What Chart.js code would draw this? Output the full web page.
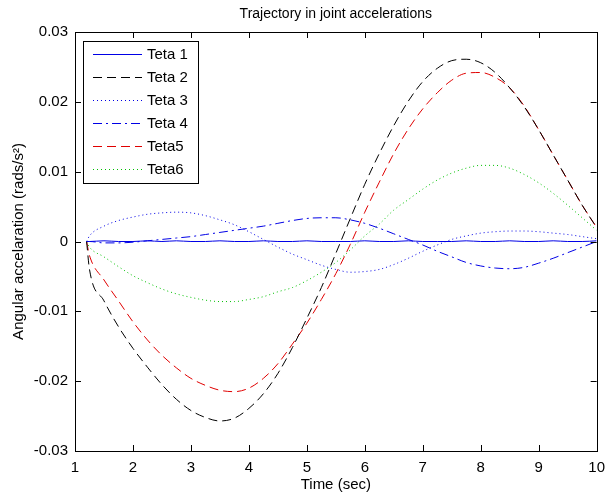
<!DOCTYPE html>
<html>
<head>
<meta charset="utf-8">
<script src="https://cdn.jsdelivr.net/npm/chart.js@4/dist/chart.umd.min.js"></script>
<style>
  html, body { margin: 0; padding: 0; background: #fff; }
  #wrap { width: 613px; height: 495px; }
</style>
</head>
<body>
<div id="wrap"><canvas id="acc"></canvas></div>
<script>
// Joint acceleration trajectories, six joints over 1..10 s.
var times = [1.2, 1.25, 1.5, 1.75, 2, 2.25, 2.5, 2.75, 3, 3.25, 3.5, 3.75, 4, 4.25, 4.5, 4.75,
             5, 5.25, 5.5, 5.75, 6, 6.25, 6.5, 6.75, 7, 7.25, 7.5, 7.75, 8, 8.25, 8.5, 8.75,
             9, 9.25, 9.5, 9.75, 10];

var teta1 = [0, 0, 0.0001, 0, 0, 0.0001, 0, 0.0001, 0, 0, 0.0001, 0, 0, 0.0001, 0, 0,
             0.0001, 0, 0, 0, 0.0001, 0, 0, 0.0001, 0, 0, 0, 0.0001, 0, 0, 0.0001, 0,
             0, 0.0001, 0, 0, 0.0001];
var teta2 = [0, -0.004, -0.0085, -0.0122, -0.0153, -0.018, -0.0205, -0.0226, -0.0242, -0.0252,
             -0.0257, -0.0253, -0.0239, -0.0218, -0.0189, -0.0152, -0.011, -0.0066, -0.0017, 0.0033,
             0.0082, 0.0126, 0.0166, 0.0201, 0.0229, 0.0248, 0.0259, 0.0261, 0.0256, 0.0242,
             0.022, 0.0193, 0.016, 0.0124, 0.0088, 0.0052, 0.002];
var teta3 = [0, 0.0008, 0.0022, 0.003, 0.0035, 0.0039, 0.0041, 0.0042, 0.0041, 0.0037,
             0.0031, 0.0024, 0.0014, 0.0003, -0.0008, -0.0018, -0.0026, -0.0034, -0.004, -0.0044,
             -0.0043, -0.004, -0.0033, -0.0024, -0.0014, -0.0005, 0.0003, 0.0008, 0.0012, 0.0014,
             0.0015, 0.0015, 0.0014, 0.0012, 0.001, 0.0007, 0.0004];
var teta4 = [0, 0, -0.0002, -0.0002, -0.0001, 0.0001, 0.0003, 0.0005, 0.0007, 0.001,
             0.0013, 0.0016, 0.0019, 0.0022, 0.0026, 0.003, 0.0033, 0.0034, 0.0034, 0.0031,
             0.0026, 0.0019, 0.0011, 0.0003, -0.0005, -0.0014, -0.0022, -0.003, -0.0035, -0.0038,
             -0.0039, -0.0037, -0.0031, -0.0024, -0.0016, -0.0008, 0];
var teta5 = [0, -0.002, -0.0055, -0.0085, -0.0115, -0.0141, -0.0163, -0.0181, -0.0196, -0.0206,
             -0.0213, -0.0215, -0.021, -0.0196, -0.0175, -0.0147, -0.0117, -0.0083, -0.0046, -0.0004,
             0.0042, 0.0085, 0.0126, 0.0161, 0.019, 0.0213, 0.0231, 0.0241, 0.0242, 0.0235,
             0.022, 0.0194, 0.016, 0.0124, 0.0088, 0.0052, 0.002];
var teta6 = [0, -0.0008, -0.0022, -0.0036, -0.0049, -0.0059, -0.0068, -0.0075, -0.008, -0.0084,
             -0.0086, -0.0086, -0.0083, -0.0079, -0.0072, -0.0066, -0.0056, -0.0044, -0.003, -0.0012,
             0.0008, 0.0025, 0.0045, 0.006, 0.0075, 0.0088, 0.0098, 0.0105, 0.0109, 0.0109,
             0.0105, 0.0096, 0.0084, 0.0069, 0.0052, 0.0034, 0.0016];

var names = ["Teta 1", "Teta 2", "Teta 3", "Teta 4", "Teta5", "Teta6"];
var xTicks = [1, 2, 3, 4, 5, 6, 7, 8, 9, 10];
var yTicks = [-0.03, -0.02, -0.01, 0, 0.01, 0.02, 0.03];

var font = "'Liberation Sans', Arial, Helvetica, sans-serif";
Chart.defaults.font.family = font;
Chart.defaults.color = "#000";

function series(label, values, color, dash) {
  return {
    label: label,
    data: times.map(function (t, i) { return { x: t, y: values[i] }; }),
    borderColor: color,
    borderWidth: 1,
    borderDash: dash,
    pointRadius: 0,
    fill: false,
    cubicInterpolationMode: "monotone"
  };
}

// MATLAB-style frame: box on all four sides with inward ticks
var boxTicks = {
  id: "boxTicks",
  afterDatasetsDraw: function (chart) {
    var ctx = chart.ctx, a = chart.chartArea;
    var xs = chart.scales.x, ys = chart.scales.y, len = 6;
    ctx.save();
    ctx.strokeStyle = "#000";
    ctx.lineWidth = 1;
    ctx.beginPath();
    xTicks.forEach(function (v) {
      var px = Math.round(xs.getPixelForValue(v)) + 0.5;
      ctx.moveTo(px, a.bottom); ctx.lineTo(px, a.bottom - len);
      ctx.moveTo(px, a.top); ctx.lineTo(px, a.top + len);
    });
    yTicks.forEach(function (v) {
      var py = Math.round(ys.getPixelForValue(v)) + 0.5;
      ctx.moveTo(a.left, py); ctx.lineTo(a.left + len, py);
      ctx.moveTo(a.right, py); ctx.lineTo(a.right - len, py);
    });
    ctx.stroke();
    ctx.strokeRect(Math.round(a.left) + 0.5, Math.round(a.top) + 0.5,
                   Math.round(a.right - a.left), Math.round(a.bottom - a.top));
    ctx.restore();
  }
};

// legend box in the upper-left corner of the axes
var cornerLegend = {
  id: "cornerLegend",
  afterDraw: function (chart) {
    var ctx = chart.ctx, a = chart.chartArea;
    var x0 = a.left + 8, y0 = a.top + 9, w = 115, h = 142, step = 23;
    ctx.save();
    ctx.fillStyle = "#fff";
    ctx.fillRect(x0, y0, w, h);
    ctx.strokeStyle = "#000";
    ctx.lineWidth = 1;
    ctx.strokeRect(x0 + 0.5, y0 + 0.5, w, h);
    ctx.font = "15px " + font;
    ctx.textBaseline = "middle";
    chart.data.datasets.forEach(function (ds, i) {
      var y = Math.round(y0 + 13 + i * step) + 0.5;
      ctx.strokeStyle = ds.borderColor;
      ctx.setLineDash(ds.borderDash || []);
      ctx.beginPath();
      ctx.moveTo(x0 + 10, y);
      ctx.lineTo(x0 + 59, y);
      ctx.stroke();
      ctx.setLineDash([]);
      ctx.fillStyle = "#000";
      ctx.fillText(ds.label, x0 + 64, y);
    });
    ctx.restore();
  }
};

new Chart(document.getElementById("acc"), {
  type: "line",
  data: {
    datasets: [
      series(names[0], teta1, "#0000e6", []),
      series(names[1], teta2, "#000000", [9, 5]),
      series(names[2], teta3, "#0000e6", [1, 3]),
      series(names[3], teta4, "#0000e6", [9, 4, 2, 4]),
      series(names[4], teta5, "#e00000", [9, 5]),
      series(names[5], teta6, "#00c000", [1, 3])
    ]
  },
  options: {
    responsive: true,
    maintainAspectRatio: false,
    animation: false,
    layout: { padding: { top: 0, right: 7, bottom: 0, left: 0 } },
    plugins: {
      legend: { display: false },
      tooltip: { enabled: false },
      title: {
        display: true,
        text: "Trajectory in joint accelerations",
        fullSize: false,
        color: "#000",
        font: { size: 14, weight: "normal" },
        padding: { top: 6, bottom: 9.2 }
      }
    },
    scales: {
      x: {
        type: "linear",
        min: 1, max: 10,
        afterFit: function (s) { s.height = 44; },
        afterBuildTicks: function (s) { s.ticks = xTicks.map(function (v) { return { value: v }; }); },
        grid: { display: false, drawTicks: false },
        border: { display: false },
        ticks: { font: { size: 15 }, color: "#000", padding: 8, maxRotation: 0 },
        title: { display: true, text: "Time (sec)", color: "#000", font: { size: 15 }, padding: { top: 0, bottom: 1 } }
      },
      y: {
        min: -0.03, max: 0.03,
        afterFit: function (s) { s.width = 75; },
        afterBuildTicks: function (s) { s.ticks = yTicks.map(function (v) { return { value: v }; }); },
        grid: { display: false, drawTicks: false },
        border: { display: false },
        ticks: {
          font: { size: 15 }, color: "#000", padding: 7,
          callback: function (v) { return String(parseFloat(Number(v).toFixed(2))); }
        },
        title: { display: true, text: "Angular accelaration (rads/s\u00b2)", color: "#000", font: { size: 15 }, padding: { top: 10, bottom: 0 } }
      }
    }
  },
  plugins: [boxTicks, cornerLegend]
});
</script>
</body>
</html>
